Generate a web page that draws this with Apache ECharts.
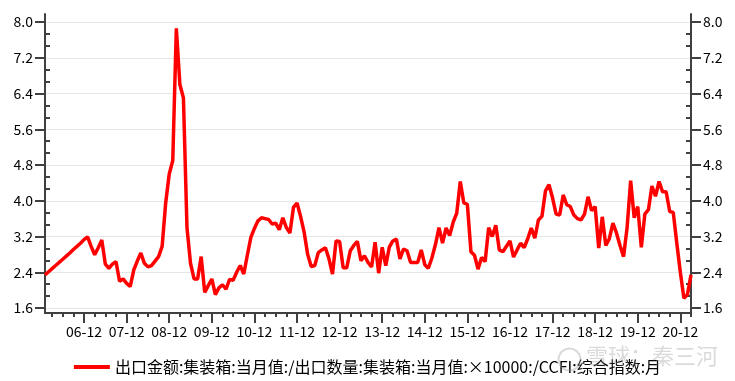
<!DOCTYPE html>
<html>
<head>
<meta charset="utf-8">
<script src="https://cdn.jsdelivr.net/npm/echarts@6/dist/echarts.min.js"></script>
<style>
html,body{margin:0;padding:0;background:#fff;}
#main{width:735px;height:381px;}
</style>
</head>
<body>
<div id="main"></div>
<script>
// ---- data ----
const seriesName = '出口金额:集装箱:当月值:/出口数量:集装箱:当月值:×10000:/CCFI:综合指数:月';
const startYear = 2006, startMonth = 1, monthCount = 183; // Jan 2006 .. Mar 2021
const months = [];
for (let k = 0; k < monthCount; k++) {
  const y = startYear + Math.floor((startMonth - 1 + k) / 12);
  const m = (startMonth - 1 + k) % 12 + 1;
  months.push(String(y % 100).padStart(2, '0') + '-' + String(m).padStart(2, '0'));
}
const values = [
  2.34, 2.41, 2.48, 2.55, 2.62, 2.69, 2.76, 2.83, 2.91, 2.98, 3.05, 3.13,
  3.19, 2.98, 2.79, 2.95, 3.12, 2.58, 2.49, 2.58, 2.64, 2.20, 2.25, 2.15,
  2.08, 2.45, 2.65, 2.83, 2.60, 2.52, 2.55, 2.65, 2.75, 2.98, 3.95, 4.60,
  4.90, 7.86, 6.60, 6.30, 3.40, 2.60, 2.25, 2.25, 2.75, 1.95, 2.10, 2.25,
  1.90, 2.05, 2.12, 2.02, 2.24, 2.22, 2.40, 2.55, 2.36, 2.78, 3.18, 3.38,
  3.55, 3.62, 3.60, 3.58, 3.48, 3.50, 3.35, 3.62, 3.40, 3.28, 3.85, 3.95,
  3.65, 3.30, 2.80, 2.53, 2.55, 2.84, 2.90, 2.95, 2.70, 2.36, 3.10, 3.09,
  2.50, 2.50, 2.88, 3.00, 3.09, 2.66, 2.77, 2.62, 2.52, 3.07, 2.38, 2.96,
  2.55, 2.96, 3.10, 3.14, 2.70, 2.92, 2.88, 2.62, 2.62, 2.62, 2.90, 2.57,
  2.49, 2.72, 3.02, 3.40, 3.05, 3.39, 3.22, 3.52, 3.72, 4.43, 3.95, 3.92,
  2.86, 2.78, 2.47, 2.73, 2.64, 3.40, 3.20, 3.45, 2.90, 2.86, 2.98, 3.10,
  2.74, 2.90, 3.05, 2.95, 3.15, 3.39, 3.16, 3.57, 3.65, 4.22, 4.36, 4.06,
  3.70, 3.68, 4.13, 3.91, 3.87, 3.68, 3.60, 3.57, 3.70, 4.09, 3.78, 3.87,
  2.94, 3.64, 3.00, 3.15, 3.50, 3.28, 3.00, 2.75, 3.40, 4.45, 3.62, 3.87,
  2.96, 3.70, 3.80, 4.33, 4.10, 4.43, 4.20, 4.20, 3.76, 3.74, 3.05, 2.40,
  1.82, 1.90, 2.34
];
const yTicks = [1.6, 2.4, 3.2, 4.0, 4.8, 5.6, 6.4, 7.2, 8.0];
const watermark = '雪球：秦三河';

// ---- chart ----
const yMin = yTicks[0], yMax = yTicks[yTicks.length - 1], yStep = yTicks[1] - yTicks[0];
const axisColor = '#404040';
const font = "'Noto Sans CJK SC', 'Microsoft YaHei', sans-serif";
const lineStyle = {color: axisColor, width: 2};
// outer frame axis range (frame extends slightly beyond labelled range)
const frameMin = yMin - yStep * 5 / 35.75;
const frameMax = yMax + yStep * 8 / 35.75;

function labelAxis(pos) {
  return {
    gridIndex: 1, type: 'value', position: pos, min: yMin, max: yMax, interval: yStep,
    axisLine: {show: false},
    axisTick: {show: true, length: 10, lineStyle: lineStyle},
    axisLabel: {margin: 12, color: '#000', fontSize: 14, fontFamily: font,
      formatter: v => v.toFixed(1)},
    splitLine: {show: pos === 'left', lineStyle: {color: '#e6e6e6', width: 1}}
  };
}
function minorAxis(pos) {
  return {
    gridIndex: 1, type: 'value', position: pos, min: yMin, max: yMax, interval: yStep,
    axisLine: {show: false},
    axisTick: {show: false, inside: true},
    minorTick: {show: true, splitNumber: 3, length: 5, lineStyle: lineStyle},
    axisLabel: {show: false},
    splitLine: {show: false}
  };
}
function frameAxis(pos) {
  return {
    gridIndex: 0, type: 'value', position: pos, min: frameMin, max: frameMax,
    axisLine: {show: true, onZero: false, lineStyle: lineStyle},
    axisTick: {show: false}, axisLabel: {show: false}, splitLine: {show: false}
  };
}

const chart = echarts.init(document.getElementById('main'));
chart.setOption({
  animation: false,
  backgroundColor: '#fff',
  textStyle: {fontFamily: font},
  grid: [
    {left: 45, right: 44, top: 14, bottom: 68},
    {left: 45, right: 44, top: 22, bottom: 73}
  ],
  xAxis: [
    {gridIndex: 0, type: 'category', position: 'bottom', data: months, boundaryGap: false,
      axisLine: {show: true, onZero: false, lineStyle: lineStyle},
      axisTick: {show: true, length: 4, interval: (i, v) => /-(03|06|09|12)$/.test(v), lineStyle: lineStyle},
      axisLabel: {show: false}, splitLine: {show: false}},
    {gridIndex: 0, type: 'category', position: 'bottom', offset: 0, data: months, boundaryGap: false,
      axisLine: {show: false, onZero: false},
      axisTick: {show: true, length: 10, interval: (i, v) => /-12$/.test(v), lineStyle: lineStyle},
      axisLabel: {interval: (i, v) => /-12$/.test(v), margin: 12, color: '#000', fontSize: 14, fontFamily: font},
      splitLine: {show: false}},
    {gridIndex: 1, type: 'category', data: months, boundaryGap: false, show: false}
  ],
  yAxis: [
    frameAxis('left'), frameAxis('right'),
    labelAxis('left'), minorAxis('left'),
    labelAxis('right'), minorAxis('right')
  ],
  legend: {
    left: 'center', top: 354,
    icon: 'rect', itemWidth: 36, itemHeight: 4, itemGap: 10,
    textStyle: {fontSize: 16, color: '#000', fontFamily: font},
    data: [seriesName]
  },
  graphic: [
    {type: 'circle', left: 556, top: 346, shape: {r: 11},
      style: {fill: 'none', stroke: 'rgba(150,150,150,0.35)', lineWidth: 2}, z: 100},
    {type: 'text', left: 586, top: 345,
      style: {text: watermark, fill: 'rgba(150,150,150,0.35)', font: "22px 'Noto Sans CJK SC'"}, z: 100}
  ],
  series: [{
    name: seriesName, type: 'line', xAxisIndex: 2, yAxisIndex: 2,
    data: values, showSymbol: false, symbol: 'none', smooth: false,
    lineStyle: {color: '#ff0000', width: 3.5}, itemStyle: {color: '#ff0000'}
  }]
});
</script>
</body>
</html>
